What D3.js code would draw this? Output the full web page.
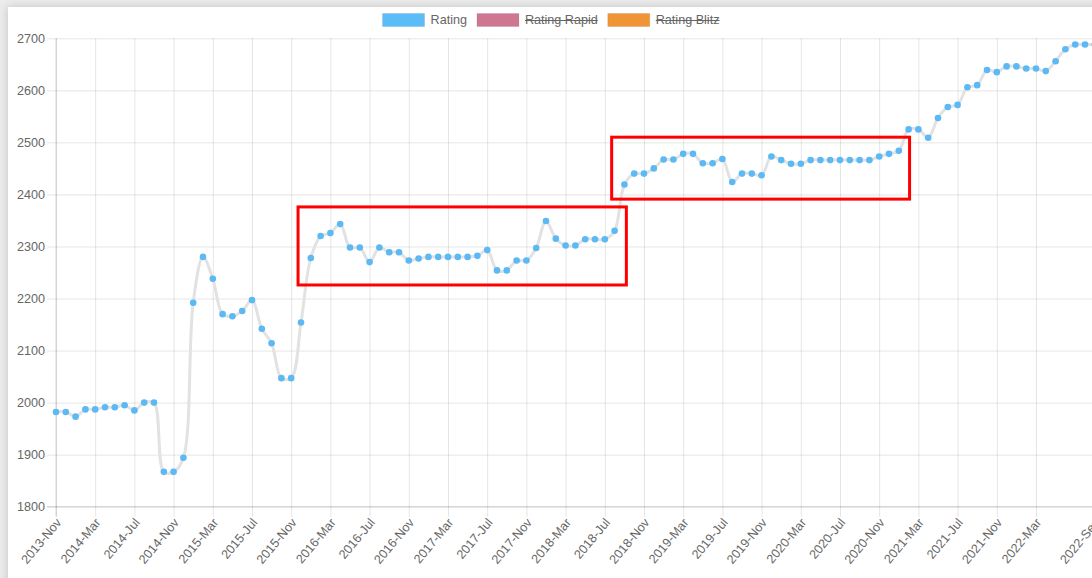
<!DOCTYPE html>
<html lang="en">
<head>
    <meta charset="UTF-8">
    <title>Rating history</title>
    <script src="https://d3js.org/d3.v7.min.js"></script>
    <style>
        html, body { margin: 0; padding: 0; }
        body { background: #ececec; width: 1092px; height: 578px; overflow: hidden; position: relative; }
        .card {
            position: absolute; left: 8px; top: 7px; width: 1200px; height: 700px;
            background: #fff; box-shadow: 0 0 9px rgba(0,0,0,0.18);
        }
        #chart { position: absolute; left: 0; top: 0; }
        #chart text { font-family: "Liberation Sans", Arial, sans-serif; fill: #666; }
    </style>
</head>
<body>
    <div class="card"></div>
    <svg id="chart" width="1120" height="578"></svg>

    <script>
        // monthly categories, 2013-Nov .. 2022-Sep
        const startMonth = new Date(2013, 10, 1);
        const endMonth = new Date(2022, 8, 1);
        const months = d3.timeMonth.range(startMonth, d3.timeMonth.offset(endMonth, 1)).map(d3.timeFormat("%Y-%b"));

        // classical rating, one value per month
        const rating = [
            1982, 1982, 1973, 1987, 1987, 1991, 1991, 1995, 1985, 2000, 2000, 1867, 1867, 1894,
            2192, 2280, 2238, 2170, 2166, 2176, 2197, 2142, 2114, 2047, 2047, 2154,
            2278, 2320, 2326, 2343, 2298, 2298, 2270, 2298, 2289, 2289, 2273, 2277,
            2280, 2280, 2280, 2280, 2280, 2282, 2293, 2254, 2254, 2273, 2273, 2297,
            2349, 2315, 2302, 2302, 2314, 2314, 2314, 2330, 2419, 2440, 2440, 2450,
            2467, 2467, 2478, 2478, 2460, 2460, 2468, 2424, 2440, 2440, 2437, 2473,
            2466, 2459, 2459, 2466, 2466, 2466, 2466, 2466, 2466, 2466, 2473, 2478,
            2484, 2525, 2525, 2509, 2547, 2568, 2572, 2606, 2610, 2639, 2635, 2646,
            2646, 2642, 2642, 2637, 2656, 2679, 2688, 2688, 2688
        ];

        const legendItems = [
            { name: "Rating", color: "#5bbcf8", hidden: false },
            { name: "Rating Rapid", color: "#cf7791", hidden: true },
            { name: "Rating Blitz", color: "#f09536", hidden: true }
        ];

        const yTicks = [1800, 1900, 2000, 2100, 2200, 2300, 2400, 2500, 2600, 2700];

        // highlighted periods drawn on top (month index range, rating range)
        const highlights = [
            { from: 24.7, to: 58.2, low: 2226, high: 2376 },
            { from: 56.7, to: 87.1, low: 2391, high: 2510 }
        ];

        const area = { left: 56, right: 1094.8, top: 38.3, bottom: 506.7 };
        const fontSize = 12.6;
        const gridColor = "rgba(0,0,0,0.1)";

        const svg = d3.select("#chart");

        const x = d3.scaleLinear().domain([0, months.length - 1]).range([area.left, area.right]);
        const y = d3.scaleLinear().domain([1800, 2700]).range([area.bottom, area.top]);

        // chart.js style autoskip: every 4th label, plus the last one
        const shown = months.map((m, i) => i).filter(i =>
            i === months.length - 1 || (i % 4 === 0 && i + 4 < months.length));

        // horizontal grid + y labels
        const yAxis = d3.axisLeft(y).tickValues(yTicks).tickFormat(d3.format("d"))
            .tickSize(-(area.right - area.left)).tickPadding(11);
        const gy = svg.append("g").attr("transform", `translate(${area.left},0)`).call(yAxis);
        gy.select(".domain").remove();
        gy.selectAll(".tick line").attr("stroke", gridColor).attr("x1", -9);
        gy.selectAll(".tick text").attr("font-size", fontSize).attr("fill", "#666");

        // vertical grid + x labels
        const xAxis = d3.axisBottom(x).tickValues(shown).tickSize(-(area.bottom - area.top)).tickFormat(i => months[i]);
        const gx = svg.append("g").attr("transform", `translate(0,${area.bottom})`).call(xAxis);
        gx.select(".domain").remove();
        gx.selectAll(".tick line").attr("stroke", gridColor).attr("y1", 10);
        gx.selectAll(".tick text")
            .attr("font-size", fontSize)
            .attr("fill", "#666")
            .attr("text-anchor", "end")
            .attr("dy", null)
            .attr("dominant-baseline", "middle")
            .attr("transform", "translate(3,14) rotate(-50)")
            .attr("y", 0);

        // axis borders a touch darker
        svg.append("line").attr("x1", area.left).attr("x2", area.left).attr("y1", area.top).attr("y2", area.bottom + 10)
            .attr("stroke", "rgba(0,0,0,0.16)");
        svg.append("line").attr("x1", area.left - 9).attr("x2", area.right).attr("y1", area.bottom).attr("y2", area.bottom)
            .attr("stroke", "rgba(0,0,0,0.16)");

        // rating line
        const line = d3.line()
            .x((d, i) => x(i))
            .y(d => y(d))
            .curve(d3.curveCatmullRom.alpha(0.5));

        svg.append("path")
            .datum(rating)
            .attr("fill", "none")
            .attr("stroke", "#e2e2e2")
            .attr("stroke-width", 3)
            .attr("d", line);

        svg.append("g").selectAll("circle")
            .data(rating)
            .join("circle")
            .attr("cx", (d, i) => x(i))
            .attr("cy", d => y(d))
            .attr("r", 3.3)
            .attr("fill", "#5cb9f3");

        // legend
        const legend = svg.append("g");
        const boxW = 42, boxH = 13, gap = 6, spacing = 10;
        let cursor = 0;
        legendItems.forEach(item => {
            const g = legend.append("g").attr("transform", `translate(${cursor},0)`);
            g.append("rect").attr("width", boxW).attr("height", boxH)
                .attr("fill", item.color).attr("stroke", "rgba(0,0,0,0.08)");
            const t = g.append("text").attr("x", boxW + gap).attr("y", boxH / 2)
                .attr("dominant-baseline", "central").attr("font-size", fontSize).text(item.name);
            const w = t.node().getComputedTextLength();
            if (item.hidden) {
                g.append("line").attr("x1", boxW + gap).attr("x2", boxW + gap + w)
                    .attr("y1", boxH / 2 + 0.5).attr("y2", boxH / 2 + 0.5)
                    .attr("stroke", "#666").attr("stroke-width", 1.2);
            }
            cursor += boxW + gap + w + spacing;
        });
        const legendWidth = cursor - spacing;
        legend.attr("transform", `translate(${551 - legendWidth / 2},13.5)`);

        // red highlight boxes
        svg.append("g").selectAll("rect")
            .data(highlights)
            .join("rect")
            .attr("x", d => x(d.from))
            .attr("y", d => y(d.high))
            .attr("width", d => x(d.to) - x(d.from))
            .attr("height", d => y(d.low) - y(d.high))
            .attr("fill", "none")
            .attr("stroke", "#ff0000")
            .attr("stroke-width", 3);
    </script>
</body>
</html>
